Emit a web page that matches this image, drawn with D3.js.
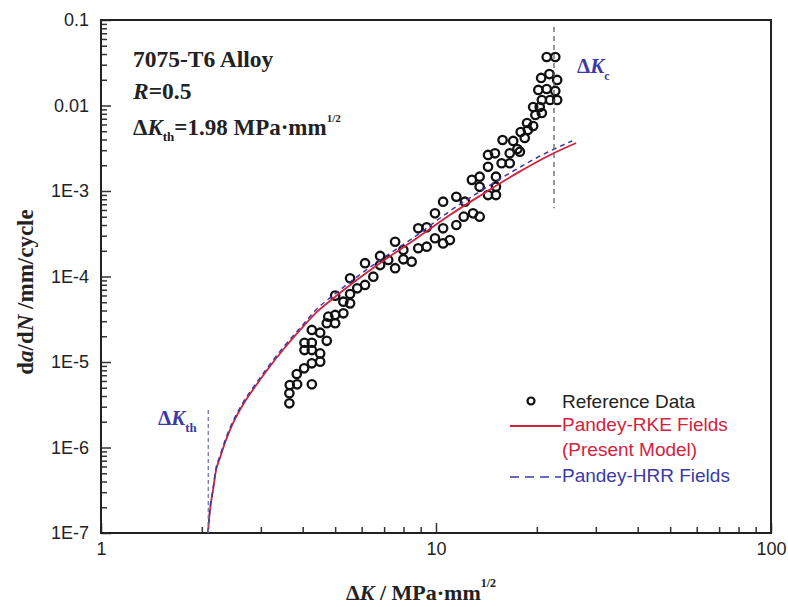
<!DOCTYPE html>
<html>
<head>
<meta charset="utf-8">
<script src="https://cdn.jsdelivr.net/npm/d3@7"></script>
<style>
  body { margin: 0; background: #fff; }
  svg { display: block; }
</style>
</head>
<body>
<svg id="fcgVis" width="788" height="607" viewBox="0 0 788 607"></svg>
<script>
// reference test data (circles)
const kRef = [3.65, 3.65, 3.66, 3.85, 4.26, 3.84, 4.04, 4.26, 4.51, 4.05,
    4.26, 4.51, 4.05, 4.26, 4.72, 4.26, 4.51, 4.72, 5.00, 4.77,
    5.00, 5.29, 5.54, 5.29, 5.54, 5.00, 5.82, 6.14, 5.54, 6.50,
    6.14, 6.81, 6.81, 7.20, 7.55, 7.55, 7.99, 7.99, 8.46, 8.85,
    8.85, 9.38, 9.38, 9.93, 9.93, 10.5, 10.5, 10.5, 11.0, 11.5,
    11.5, 12.1, 12.2, 12.9, 12.8, 13.5, 13.5, 13.5, 14.3, 14.3,
    15.1, 15.1, 15.1, 14.3, 15.0, 15.7, 16.6, 16.6, 17.8, 21.4,
    22.7, 20.6, 21.8, 23.0, 20.2, 21.4, 22.7, 20.7, 21.9, 23.0,
    19.5, 20.4, 19.8, 20.7, 18.7, 19.5, 17.9, 18.8, 18.4, 15.8,
    17.0, 17.5];
const rateRef = [3.29e-6, 4.31e-6, 5.38e-6, 5.48e-6, 5.48e-6, 7.24e-6, 8.43e-6, 9.66e-6, 1.01e-5, 1.38e-5,
    1.38e-5, 1.26e-5, 1.68e-5, 1.68e-5, 1.77e-5, 2.37e-5, 2.20e-5, 2.84e-5, 2.84e-5, 3.39e-5,
    3.55e-5, 3.71e-5, 4.85e-5, 5.07e-5, 6.24e-5, 5.97e-5, 7.28e-5, 7.96e-5, 9.53e-5, 9.95e-5,
    1.43e-4, 1.36e-4, 1.74e-4, 1.56e-4, 1.25e-4, 2.55e-4, 2.04e-4, 1.59e-4, 1.49e-4, 2.14e-4,
    3.66e-4, 2.23e-4, 3.76e-4, 2.80e-4, 5.48e-4, 7.50e-4, 3.66e-4, 2.44e-4, 2.67e-4, 8.57e-4,
    4.00e-4, 5.01e-4, 7.50e-4, 5.48e-4, 1.35e-3, 5.01e-4, 1.47e-3, 1.12e-3, 1.92e-3, 8.97e-4,
    1.47e-3, 1.12e-3, 8.97e-4, 2.64e-3, 2.76e-3, 2.11e-3, 2.11e-3, 2.76e-3, 2.88e-3, 0.0369,
    0.0369, 0.0210, 0.0233, 0.0199, 0.0152, 0.0156, 0.0148, 0.0116, 0.0116, 0.0116,
    9.6e-3, 9.6e-3, 7.74e-3, 8.17e-3, 6.24e-3, 5.75e-3, 4.90e-3, 5.16e-3, 4.17e-3, 3.95e-3,
    3.85e-3, 3.10e-3];

// Pandey-RKE fields (present model), red solid
const kRke = [2.086, 2.115, 2.16, 2.20, 2.27, 2.36, 2.48, 2.65, 2.88, 3.15, 3.49, 3.93, 4.41, 4.99, 5.54,
    6.95, 8.78, 11.0, 13.8, 17.5, 21.9, 26.2];
const rateRke = [1e-7, 1.86e-7, 3.18e-7, 5.16e-7, 7.74e-7, 1.22e-6, 1.94e-6, 3.14e-6, 5.10e-6, 8.28e-6, 1.38e-5, 2.37e-5, 3.85e-5, 5.75e-5, 7.96e-5,
    1.52e-4, 2.82e-4, 5.24e-4, 9.22e-4, 1.63e-3, 2.64e-3, 3.64e-3];

// Pandey-HRR fields, blue dashed
const kHrr = [2.086, 2.115, 2.16, 2.20, 2.27, 2.36, 2.48, 2.65, 2.88, 3.15, 3.49, 3.93, 4.41, 4.99, 5.54,
    6.95, 8.78, 10.9, 13.6, 17.2, 21.6, 25.5];
const rateHrr = [1e-7, 1.91e-7, 3.27e-7, 5.46e-7, 8.16e-7, 1.29e-6, 2.04e-6, 3.31e-6, 5.38e-6, 8.75e-6, 1.46e-5, 2.50e-5, 4.17e-5, 6.24e-5, 8.63e-5,
    1.64e-4, 3.05e-4, 5.68e-4, 1.00e-3, 1.76e-3, 2.86e-3, 3.85e-3];

// threshold / critical markers
const kTh = 2.09;
const kThSpan = [2.75e-6, 1e-7];
const kC = 22.5;
const kCSpan = [0.083, 6.3e-4];

const xTicks = [1, 10, 100];
const xTickLabels = ["1", "10", "100"];
const yTicks = [1e-7, 1e-6, 1e-5, 1e-4, 1e-3, 0.01, 0.1];
const yTickLabels = ["1E-7", "1E-6", "1E-5", "1E-4", "1E-3", "0.01", "0.1"];

(function () {
    const svg = d3.select("#fcgVis");
    const W = 788, H = 607;
    const margin = { top: 20, right: 17, bottom: 74, left: 101 };
    const width = W - margin.left - margin.right;
    const height = H - margin.top - margin.bottom;

    const RED = "#d4223c";
    const BLUE = "#3a3aa6";
    const SANS = "Arial, 'Liberation Sans', sans-serif";
    const SERIF = "'Times New Roman', 'Liberation Serif', serif";

    svg.append("rect").attr("width", W).attr("height", H).attr("fill", "#fff");
    const g = svg.append("g").attr("transform", `translate(${margin.left},${margin.top})`);

    const x = d3.scaleLog().domain([1, 100]).range([0, width]);
    const y = d3.scaleLog().domain([1e-7, 0.1]).range([height, 0]);

    // === Axes (ticks point inward) ===
    const isMajor = v => Math.abs(Math.log10(v) - Math.round(Math.log10(v))) < 1e-9;
    const xMinor = x.ticks().filter(v => !isMajor(v));
    const yMinor = y.ticks().filter(v => !isMajor(v));

    g.append("g").attr("transform", `translate(0,${height})`)
        .call(d3.axisBottom(x).tickValues(xTicks).tickSize(-10).tickPadding(9)
            .tickFormat((d, i) => xTickLabels[i]));
    g.append("g").attr("transform", `translate(0,${height})`)
        .call(d3.axisBottom(x).tickValues(xMinor).tickSize(-6).tickFormat(""));

    g.append("g")
        .call(d3.axisLeft(y).tickValues(yTicks).tickSize(-10).tickPadding(12)
            .tickFormat((d, i) => yTickLabels[i]));
    g.append("g")
        .call(d3.axisLeft(y).tickValues(yMinor).tickSize(-6).tickFormat(""));

    g.selectAll(".domain").remove();
    g.selectAll(".tick line").attr("stroke", "#333").attr("stroke-width", 1.5);
    g.selectAll(".tick text")
        .attr("fill", "#222")
        .style("font-family", SANS)
        .style("font-size", "18px");

    g.append("rect")
        .attr("width", width).attr("height", height)
        .attr("fill", "none").attr("stroke", "#222").attr("stroke-width", 2);

    // === Reference data ===
    const pts = kRef.map((k, i) => ({ k, r: rateRef[i] }));
    g.append("g").selectAll("circle").data(pts).join("circle")
        .attr("cx", d => x(d.k))
        .attr("cy", d => y(d.r))
        .attr("r", 4.2)
        .attr("fill", "none")
        .attr("stroke", "#111")
        .attr("stroke-width", 2.3);

    // === Model curves ===
    const line = d3.line().x(d => x(d[0])).y(d => y(d[1])).curve(d3.curveMonotoneX);
    g.append("path")
        .datum(kRke.map((k, i) => [k, rateRke[i]]))
        .attr("d", line)
        .attr("fill", "none").attr("stroke", RED).attr("stroke-width", 1.8);
    g.append("path")
        .datum(kHrr.map((k, i) => [k, rateHrr[i]]))
        .attr("d", line)
        .attr("fill", "none").attr("stroke", BLUE).attr("stroke-width", 1.5)
        .attr("stroke-dasharray", "5,4");

    // vertical markers
    g.append("line")
        .attr("x1", x(kTh)).attr("x2", x(kTh))
        .attr("y1", y(kThSpan[0])).attr("y2", y(kThSpan[1]))
        .attr("stroke", "#6a6aa8").attr("stroke-width", 1.2).attr("stroke-dasharray", "4,3");
    g.append("line")
        .attr("x1", x(kC)).attr("x2", x(kC))
        .attr("y1", y(kCSpan[0])).attr("y2", y(kCSpan[1]))
        .attr("stroke", "#555").attr("stroke-width", 1.2).attr("stroke-dasharray", "5,4");

    // rich text helper: parts = [{t, it, size, dy}]
    function rich(parent, px, py, parts, opts) {
        const t = parent.append("text")
            .attr("x", px).attr("y", py)
            .attr("fill", opts.fill || "#222")
            .attr("font-weight", opts.weight || "bold")
            .attr("text-anchor", opts.anchor || "start")
            .style("font-family", opts.font || SERIF)
            .style("font-size", (opts.size || 22) + "px");
        if (opts.rotate) t.attr("transform", `rotate(${opts.rotate},${px},${py})`);
        parts.forEach(p => {
            const s = t.append("tspan").text(p.t);
            if (p.it) s.attr("font-style", "italic");
            if (p.size) s.style("font-size", p.size + "px");
            if (p.dy) s.attr("dy", p.dy);
        });
        return t;
    }

    // === Annotations ===
    rich(svg, 133, 67, [{ t: "7075-T6 Alloy" }], { size: 23.5 });
    rich(svg, 133, 99, [{ t: "R", it: true }, { t: "=0.5" }], { size: 23.5 });
    rich(svg, 133, 135, [
        { t: "Δ" }, { t: "K", it: true }, { t: "th", size: 13, dy: 6 },
        { t: "=1.98 MPa·mm", dy: -6 }, { t: "1/2", size: 11, dy: -13 }
    ], { size: 23 });

    rich(svg, 577, 73, [{ t: "Δ" }, { t: "K", it: true }, { t: "c", size: 12, dy: 7 }],
        { fill: BLUE, size: 21 });
    rich(svg, 158, 425, [{ t: "Δ" }, { t: "K", it: true }, { t: "th", size: 13, dy: 7 }],
        { fill: BLUE, size: 21 });

    // axis titles
    rich(svg, 421, 600, [
        { t: "Δ" }, { t: "K", it: true }, { t: " / MPa·mm" }, { t: "1/2", size: 12, dy: -13 }
    ], { anchor: "middle" });
    rich(svg, 33, 292, [
        { t: "d" }, { t: "a", it: true }, { t: "/d" }, { t: "N", it: true }, { t: " /mm/cycle" }
    ], { anchor: "middle", rotate: -90, size: 23 });

    // === Legend ===
    const lg = svg.append("g").style("font-family", SANS).style("font-size", "19px");
    lg.append("circle").attr("cx", 531).attr("cy", 401).attr("r", 3.5)
        .attr("fill", "none").attr("stroke", "#111").attr("stroke-width", 2.2);
    lg.append("text").attr("x", 562).attr("y", 408).attr("fill", "#222").text("Reference Data");
    lg.append("line").attr("x1", 510).attr("x2", 561).attr("y1", 426).attr("y2", 426)
        .attr("stroke", RED).attr("stroke-width", 1.8);
    lg.append("text").attr("x", 562).attr("y", 431).attr("fill", RED).text("Pandey-RKE Fields");
    lg.append("text").attr("x", 562).attr("y", 456).attr("fill", RED).text("(Present Model)");
    lg.append("line").attr("x1", 510).attr("x2", 561).attr("y1", 477).attr("y2", 477)
        .attr("stroke", BLUE).attr("stroke-width", 1.5).attr("stroke-dasharray", "9,6");
    lg.append("text").attr("x", 562).attr("y", 482).attr("fill", BLUE).text("Pandey-HRR Fields");
})();
</script>
</body>
</html>
